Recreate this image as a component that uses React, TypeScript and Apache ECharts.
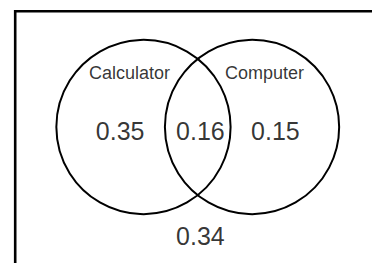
import { useEffect, useRef } from "react";
import * as echarts from "echarts";

// ---- data ----
const setNames = ["Calculator", "Computer"];
// probabilities: Calculator only, both, Computer only
const regionValues = [0.35, 0.16, 0.15];
// neither
const outsideValue = 0.34;

// ---- layout (in circle-radius units) ----
const halfGap = 0.623;
const circleLayout = [
  [-halfGap, 0, 1],
  [halfGap, 0, 1],
];
const regionPos = [
  [-0.891, -0.045],
  [0.03, -0.045],
  [0.891, -0.045],
];
const namePos = [
  [-0.783, 0.617],
  [0.766, 0.617],
];
const outsidePos = [0.03, -1.251];

const FONT = "'Liberation Sans', Arial, Helvetica, sans-serif";

export default function App() {
  const ref = useRef<HTMLDivElement>(null);
  useEffect(() => {
    if (!ref.current) return;
    const chart = echarts.init(ref.current, undefined, { renderer: "svg" });
    const numData = regionValues
      .map((v, i) => ({ value: [regionPos[i][0], regionPos[i][1], v] }))
      .concat([{ value: [outsidePos[0], outsidePos[1], outsideValue] }]);
    const nameData = setNames.map((n, i) => ({
      name: n,
      value: [namePos[i][0], namePos[i][1]],
    }));
    chart.setOption({
      animation: false,
      backgroundColor: "#fff",
      grid: { left: 23.5, top: 22, width: 350, height: 236.25 },
      xAxis: { type: "value", min: -2, max: 2, show: false },
      yAxis: { type: "value", min: -1.5, max: 1.2, show: false },
      graphic: [
        {
          type: "rect",
          shape: { x: 15.2, y: 11.2, width: 420, height: 320 },
          style: { fill: "none", stroke: "#000", lineWidth: 2.6 },
          silent: true,
        },
      ],
      series: [
        {
          type: "custom",
          data: circleLayout,
          renderItem: (_params: any, api: any) => {
            const c = api.coord([api.value(0), api.value(1)]);
            const s = api.size([api.value(2), api.value(2)]);
            return {
              type: "circle",
              shape: { cx: c[0], cy: c[1], r: s[0] },
              style: { fill: "none", stroke: "#000", lineWidth: 2 },
            };
          },
          silent: true,
        },
        {
          type: "scatter",
          data: numData,
          symbolSize: 1,
          itemStyle: { color: "rgba(0,0,0,0)" },
          label: {
            show: true,
            position: "inside",
            formatter: (p: any) => Number(p.value[2]).toFixed(2),
            color: "#000",
            textBorderWidth: 0,
            fontSize: 25,
            fontFamily: FONT,
          },
          silent: true,
        },
        {
          type: "scatter",
          data: nameData,
          symbolSize: 1,
          itemStyle: { color: "rgba(0,0,0,0)" },
          label: {
            show: true,
            position: "inside",
            formatter: (p: any) => p.name,
            color: "#000",
            textBorderWidth: 0,
            fontSize: 18,
            fontFamily: FONT,
          },
          silent: true,
        },
      ],
    });
    return () => chart.dispose();
  }, []);
  return (
    <div
      ref={ref}
      style={{ position: "fixed", left: 0, top: 0, width: 372, height: 263 }}
    />
  );
}
